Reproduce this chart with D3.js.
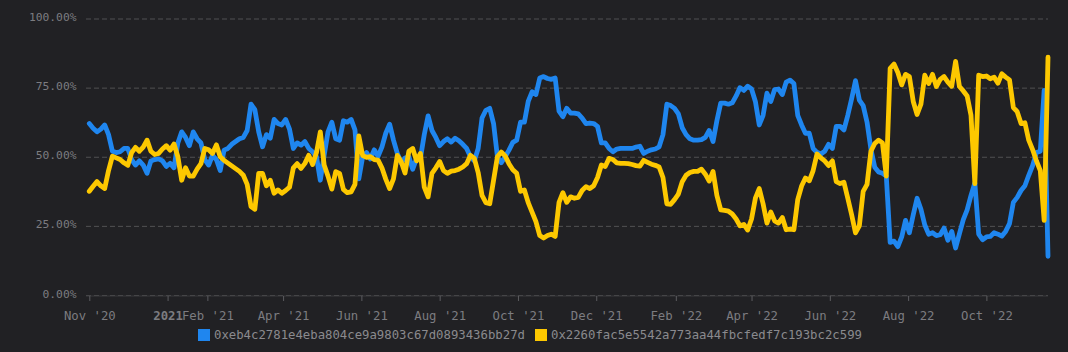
<!DOCTYPE html>
<html>
<head>
<meta charset="utf-8">
<script src="https://cdn.jsdelivr.net/npm/d3@7/dist/d3.min.js"></script>
<style>
  html, body { margin: 0; padding: 0; background: #212124; }
  #vizcontainer { width: 1068px; height: 352px; }
</style>
</head>
<body>
<div id="vizcontainer"></div>
<script>
// one point every 3 days, starting 1 Nov 2020
const startDate = new Date(2020, 10, 1),
  endDate = new Date(2022, 10, 18),
  stepDays = 3;

const seriesNames = [
  '0xeb4c2781e4eba804ce9a9803c67d0893436bb27d',
  '0x2260fac5e5542a773aa44fbcfedf7c193bc2c599'
];

const blueValues = [
  62, 60.3, 59, 60, 61.5, 58, 52, 51.5, 51.8, 53, 53, 49, 47, 48.5, 47, 44, 48.5, 49, 49.2, 48.5,
  46.5, 47.6, 46, 55, 59, 57, 54, 59, 56.5, 55, 49, 47, 50.5, 49, 45, 52.4, 53, 54.5, 55.5, 56.5,
  57, 59.5, 69, 67, 59, 53.6, 58, 56.7, 63.5, 62, 61.5, 63.5, 60, 53, 55, 54.2, 55.5, 53, 51.8, 50,
  41.5, 50.5, 59, 62.5, 56.5, 56, 63, 62.5, 63.5, 59.7, 42, 50, 51.5, 49.2, 52.5, 50.2, 53.5, 58.5, 61.8, 56,
  51.2, 47.8, 49.5, 50, 45.5, 49.4, 49.4, 58, 64.8, 59.5, 57, 54, 55.5, 56.5, 55.3, 56.7, 55.8, 54.5, 53, 50,
  48.5, 53, 64, 66.8, 67.5, 62, 50, 47.8, 50, 52.4, 55.2, 56, 62.5, 62.5, 70, 73.5, 72.5, 78.5, 79, 78.3,
  78, 78.5, 66.5, 64.5, 67.5, 65.8, 65.8, 65.5, 64, 62, 62.2, 62, 61, 55, 55, 53, 51.8, 52.8, 53, 53,
  53, 53, 53.5, 53.8, 51.2, 52, 52.5, 52.8, 53.6, 58, 69, 68.5, 67.5, 65.5, 60.5, 58, 56.5, 56, 56, 56.2,
  57, 59.5, 55.5, 63, 69.4, 69.4, 69, 69.5, 72, 75, 74, 75.5, 74.5, 70, 61.5, 65, 73, 70, 74.3, 74.5,
  72.5, 77, 77.7, 76.5, 65, 61.5, 58.5, 58.5, 53, 51.6, 51, 52, 54.5, 53, 61, 61, 59.7, 65, 71, 77.5,
  70.5, 68.5, 62.5, 52.8, 46.2, 44.5, 44, 43, 19, 19.5, 17.5, 21, 27, 22.5, 29, 35, 31, 25.3, 22, 22.5,
  21.5, 21.8, 24.2, 19.8, 23, 17, 22.2, 27.3, 30.8, 36, 40.5, 22, 20, 21, 21.2, 22.5, 22, 21.3, 23, 25.8,
  33.5, 35.3, 37.8, 39.5, 43.3, 46.8, 51.5, 52, 74, 14
];

const yellowValues = [
  37.5, 39.3, 41, 39.5, 38.5, 45, 50.2, 49.6, 49, 47.8, 46.9, 51.5, 53.4, 52, 53.5, 56, 52, 50.8, 51.2, 52.8,
  54, 52.4, 54.6, 50, 41.5, 46, 43, 43, 45.5, 47.5, 53, 52.5, 51.2, 54.3, 50, 48.7, 47.7, 46.7, 45.7, 44.7,
  43.3, 40, 32, 31, 44, 44, 39.5, 41.5, 36.8, 38, 36.8, 37.8, 39, 46, 47.5, 45.8, 47.6, 50.5, 47.2, 51.5,
  59, 47, 43, 38.3, 44.6, 44, 38.2, 37, 37.3, 40, 57.5, 50.4, 49.8, 50, 49, 48.8, 46, 41.9, 38.5, 42,
  50.5, 48.2, 44.1, 52, 53, 48.5, 51.2, 39, 35.5, 44, 46, 48.3, 45, 44, 44.8, 45, 45.5, 46.3, 47.5, 50.5,
  49.4, 44.3, 36, 33.4, 33, 41.5, 50, 51.7, 50.3, 47.5, 45.3, 44, 37.5, 38, 33.4, 30, 26.5, 21.5, 20.6, 21.5,
  22, 21.2, 33.5, 37, 33.5, 35.5, 35, 35.3, 37.8, 39.2, 38.5, 39.5, 42.5, 47, 46.5, 49.4, 49, 47.8, 47.6, 47.6,
  47.5, 47.2, 46.8, 46.6, 48.7, 48, 47.3, 46.9, 46.3, 42.5, 33, 32.8, 34.5, 36.5, 41, 43.3, 44.3, 44.7, 44.7, 45.5,
  43.7, 41.2, 44.7, 36, 30.8, 30.6, 30.3, 29.3, 27.5, 25, 25.5, 23.5, 27.5, 35, 38.5, 33, 26, 30, 26.8, 26,
  28, 23.6, 23.8, 23.6, 34.5, 39.4, 42.3, 41.3, 45, 51, 49.6, 48.5, 46.8, 48.5, 41, 40.3, 40.8, 35, 29, 22.5,
  25, 37.5, 40, 52, 54.8, 56, 55, 43, 82, 83.5, 80.5, 76, 79.8, 79, 70, 65.3, 69, 79.5, 76.5, 79.8,
  75.4, 78, 79, 77, 75.5, 84.5, 75.4, 73.8, 72, 65, 40.3, 79.5, 79, 79.2, 78.2, 78.8, 76.6, 80, 78.8, 77.8,
  67.8, 66.3, 62, 62.3, 56, 52.6, 48.5, 45, 27, 86
];

const yTicks = [0, 25, 50, 75, 100];

const xTicks = [
  new Date(2020, 10, 1), new Date(2021, 0, 1), new Date(2021, 1, 1), new Date(2021, 3, 1),
  new Date(2021, 5, 1), new Date(2021, 7, 1), new Date(2021, 9, 1), new Date(2021, 11, 1),
  new Date(2022, 1, 1), new Date(2022, 3, 1), new Date(2022, 5, 1), new Date(2022, 7, 1),
  new Date(2022, 9, 1)
];
const xTickLabels = ["Nov '20", '2021', "Feb '21", "Apr '21", "Jun '21", "Aug '21", "Oct '21",
  "Dec '21", "Feb '22", "Apr '22", "Jun '22", "Aug '22", "Oct '22"];

const
  width = 1068,
  height = 352,
  colors = ['#1f86ef', '#fdc800'],
  gridColor = '#505052',
  textColor = '#7c7c80',
  mono = '"DejaVu Sans Mono", "Liberation Mono", monospace'
  ;

const dates = blueValues.map((d, i) => d3.timeDay.offset(startDate, i * stepDays));

let svg = d3.select('#vizcontainer')
  .append('svg')
  .attr('width', width)
  .attr('height', height)
  .style('display', 'block')
  .style('background', '#212124')
  ;

const x = d3.scaleTime()
  .domain([startDate, endDate])
  .range([89.3, 1048]);

const y = d3.scaleLinear()
  .domain([0, 100])
  .range([295, 18.5]);

// y grid + labels
let yAxis = svg.append('g')
  .attr('transform', 'translate(86,0)')
  .call(d3.axisLeft(y)
    .tickValues(yTicks)
    .tickSize(-(1048 - 86))
    .tickPadding(9.5)
    .tickFormat(d => d3.format('.2f')(d) + '%'));
yAxis.select('.domain').remove();
yAxis.selectAll('line')
  .attr('stroke', gridColor)
  .attr('stroke-dasharray', '5,3');
yAxis.selectAll('text')
  .attr('fill', textColor)
  .attr('font-family', mono)
  .attr('font-size', 11.3)
  .attr('dy', '0.18em');

// x axis
let xAxis = svg.append('g')
  .attr('transform', 'translate(0,295)')
  .call(d3.axisBottom(x)
    .tickValues(xTicks)
    .tickSize(6)
    .tickSizeOuter(0)
    .tickPadding(10)
    .tickFormat((d, i) => xTickLabels[i]));
xAxis.select('.domain')
  .attr('stroke', '#3a3a3d')
  .attr('d', 'M86,1H1048');
xAxis.selectAll('line')
  .attr('stroke', '#5c5c60')
  .attr('y1', 1);
xAxis.selectAll('text')
  .attr('fill', textColor)
  .attr('font-family', mono)
  .attr('font-size', 12.3)
  .attr('font-weight', (d, i) => xTickLabels[i] === '2021' ? 'bold' : null);

// lines
const line = d3.line()
  .x((d, i) => x(dates[i]))
  .y(d => y(d));

svg.append('g')
  .selectAll('path')
  .data([blueValues, yellowValues])
  .join('path')
  .attr('d', d => line(d))
  .attr('fill', 'none')
  .attr('stroke', (d, i) => colors[i])
  .attr('stroke-width', 4.8)
  .attr('stroke-linejoin', 'round')
  .attr('stroke-linecap', 'round');

// legend
const legendX = [198, 535];
let legend = svg.append('g')
  .selectAll('g')
  .data(seriesNames)
  .join('g')
  .attr('transform', (d, i) => `translate(${legendX[i]},329)`);
legend.append('rect')
  .attr('width', 12)
  .attr('height', 12)
  .attr('fill', (d, i) => colors[i]);
legend.append('text')
  .attr('x', 16)
  .attr('y', 10)
  .attr('fill', '#8a8a8e')
  .attr('font-family', mono)
  .attr('font-size', 12.3)
  .text(d => d);
</script>
</body>
</html>
